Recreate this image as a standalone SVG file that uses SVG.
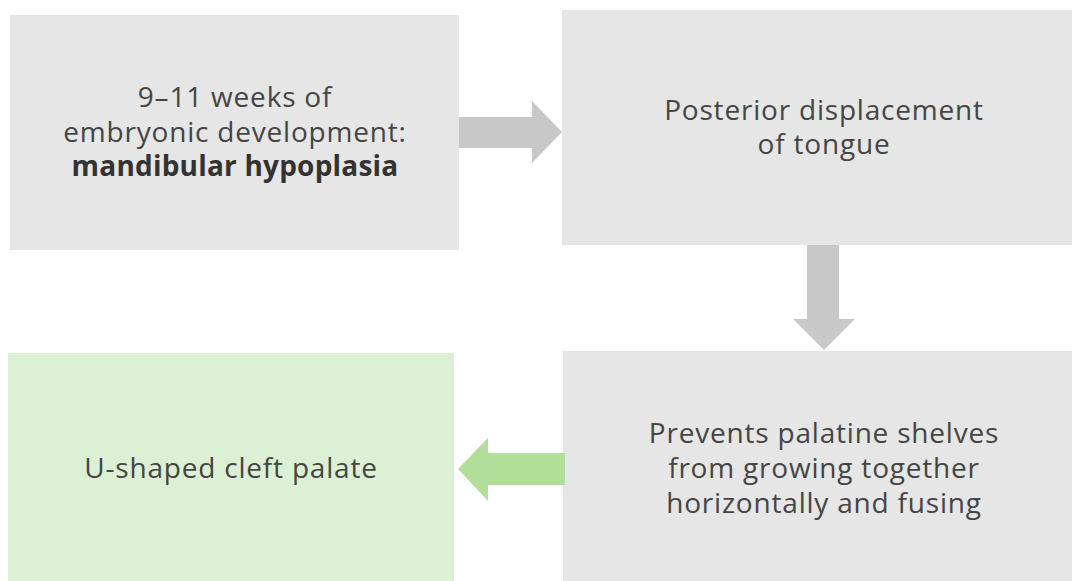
<svg xmlns="http://www.w3.org/2000/svg" width="1072" height="581" viewBox="0 0 1072 581">
<style>
.box{fill:#e6e6e6}
.green{fill:#dcf0d3}
.t{font-family:"Open Sans","Liberation Sans",sans-serif;font-size:28px;letter-spacing:0.8px;fill:#454545;text-anchor:middle}
.b{font-weight:bold;fill:#333;letter-spacing:0.2px}
.ag{fill:#c8c8c8}
.agr{fill:#b1de98}
</style>
<rect width="1072" height="581" fill="#fff"/>
<g id="node1">
<rect class="box" x="10" y="15" width="449" height="235"/>
<text class="t" x="235" y="107">9–11 weeks of</text>
<text class="t" x="235" y="142">embryonic development:</text>
<text class="t b" x="235" y="176">mandibular hypoplasia</text>
</g>
<g id="node2">
<rect class="box" x="562" y="10" width="510" height="235"/>
<text class="t" x="824" y="120">Posterior displacement</text>
<text class="t" x="824" y="154">of tongue</text>
</g>
<g id="node3">
<rect class="box" x="563" y="351" width="509" height="230"/>
<text class="t" x="824" y="443">Prevents palatine shelves</text>
<text class="t" x="824" y="478">from growing together</text>
<text class="t" x="824" y="513">horizontally and fusing</text>
</g>
<g id="node4">
<rect class="green" x="8" y="353" width="446" height="228"/>
<text class="t" x="231" y="478">U-shaped cleft palate</text>
</g>
<g id="connectors">
<polygon class="ag" points="459,117 532,117 532,101 562,132 532,163 532,148 459,148"/>
<polygon class="ag" points="807,245 839,245 839,319 855,319 824,350 793,319 807,319"/>
<polygon class="agr" points="565,453 488,453 488,438 458,469 488,501 488,485 565,485"/>
</g>
</svg>
